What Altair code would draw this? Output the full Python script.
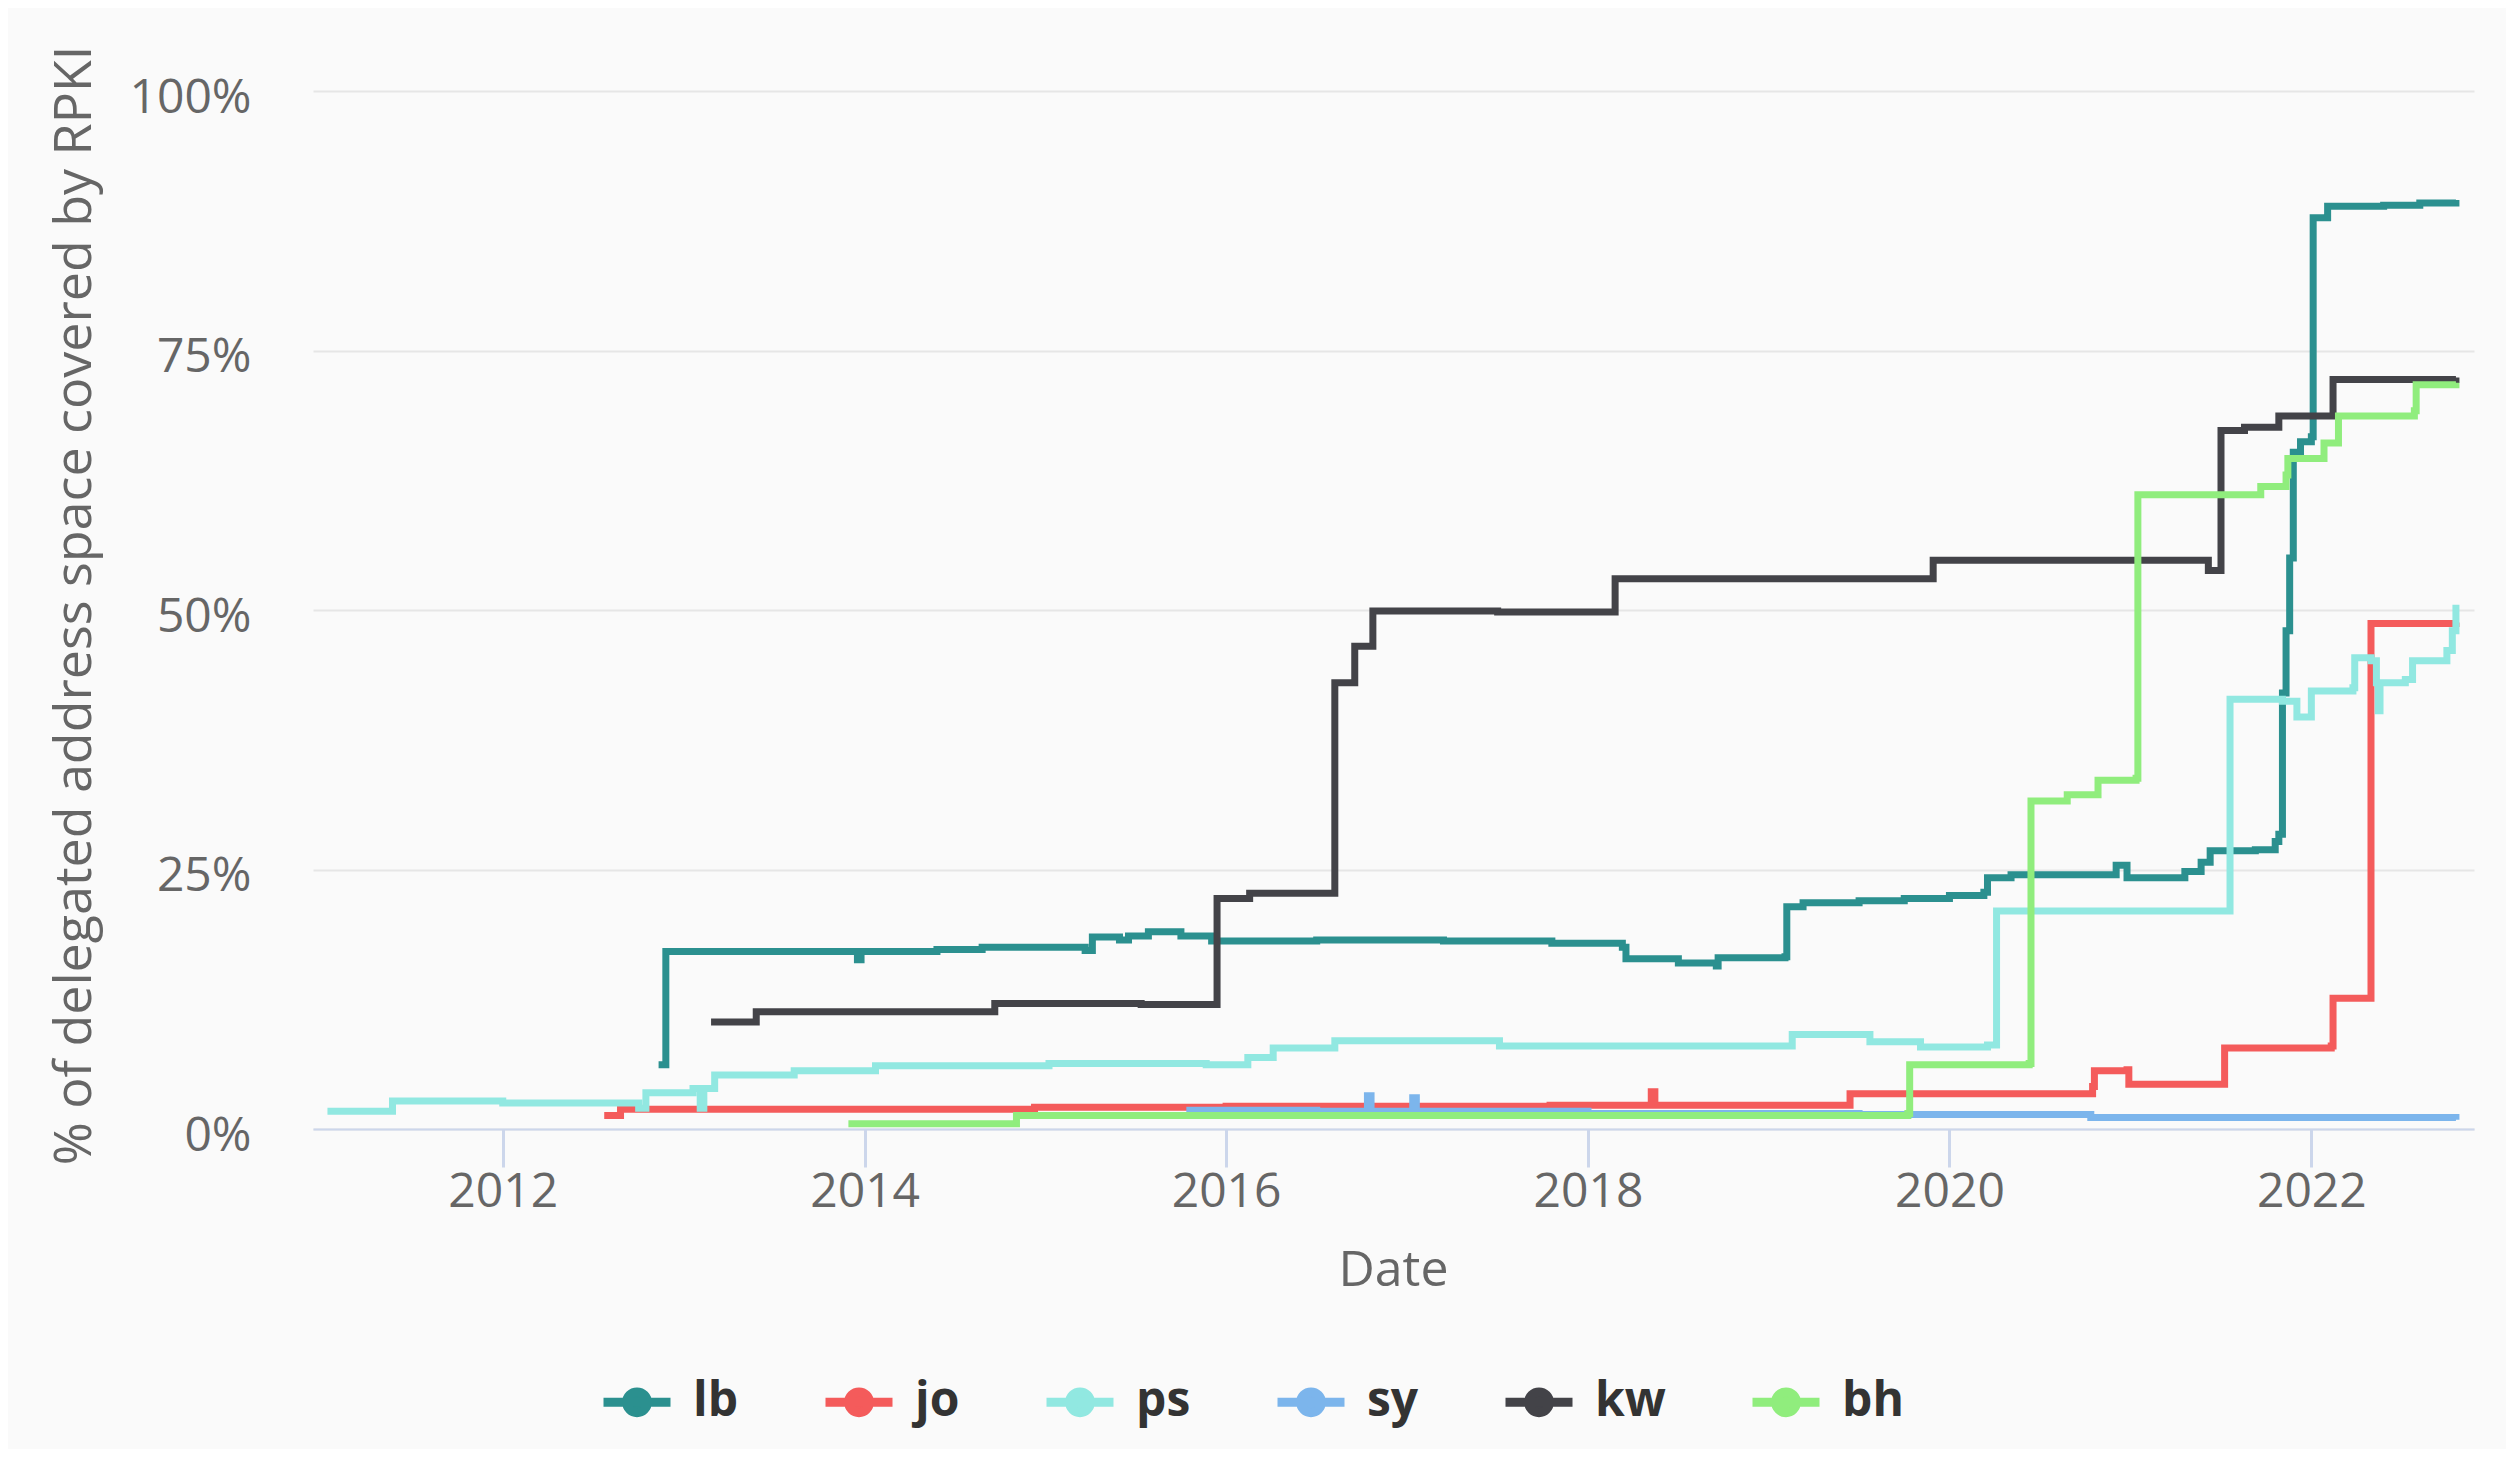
import altair as alt
import pandas as pd

SERIES = ["lb", "jo", "ps", "sy", "kw", "bh"]
COLORS = ["#2b908f", "#f45b5b", "#91e8e1", "#7cb5ec", "#434348", "#90ed7d"]

# change points: decimal year, % covered
lb_t = [2012.86, 2012.90, 2013.95, 2013.96, 2013.98, 2014.40, 2014.65, 2015.22, 2015.26, 2015.41,
        2015.46, 2015.57, 2015.75, 2015.92, 2016.50, 2017.20, 2017.80, 2018.19, 2018.21, 2018.50,
        2018.71, 2018.72, 2019.09, 2019.10, 2019.19, 2019.50, 2019.75, 2020.00, 2020.19, 2020.21,
        2020.34, 2020.89, 2020.92, 2020.97, 2020.98, 2021.19, 2021.30, 2021.39, 2021.44, 2021.69,
        2021.80, 2021.82, 2021.84, 2021.86, 2021.88, 2021.90, 2021.94, 2022.00, 2022.01, 2022.09,
        2022.40, 2022.60, 2022.80]
lb_v = [6.2, 17.1, 17.1, 16.3, 17.1, 17.3, 17.5, 17.2, 18.5, 18.2,
        18.6, 19.0, 18.6, 18.1, 18.2, 18.1, 17.9, 17.5, 16.4, 16.0,
        15.7, 16.5, 16.6, 21.4, 21.8, 22.0, 22.2, 22.5, 22.8, 24.2,
        24.5, 24.5, 25.4, 25.4, 24.2, 24.2, 24.8, 25.7, 26.8, 26.9,
        27.7, 28.4, 42.0, 48.0, 55.0, 65.2, 66.2, 66.7, 87.8, 88.9,
        89.0, 89.2, 89.5]

jo_t = [2012.56, 2012.65, 2014.94, 2016.00, 2017.79, 2018.34, 2018.35, 2018.37, 2019.45, 2020.79,
        2020.80, 2020.98, 2020.99, 2021.51, 2021.52, 2022.11, 2022.12, 2022.32, 2022.33, 2022.80]
jo_v = [1.3, 1.9, 2.1, 2.2, 2.3, 2.3, 3.6, 2.3, 3.4, 4.1,
        5.6, 5.7, 4.3, 4.3, 7.8, 8.0, 12.6, 12.6, 48.7, 48.8]

ps_t = [2011.03, 2011.39, 2012.00, 2012.75, 2012.79, 2013.05, 2013.09, 2013.11, 2013.17, 2013.61,
        2014.06, 2014.23, 2015.02, 2015.89, 2016.12, 2016.26, 2016.60, 2017.28, 2017.51, 2018.96,
        2019.13, 2019.56, 2019.84, 2020.21, 2020.26, 2021.54, 2021.55, 2021.84, 2021.92, 2022.00,
        2022.23, 2022.24, 2022.33, 2022.36, 2022.37, 2022.38, 2022.52, 2022.56, 2022.75, 2022.78,
        2022.80]
ps_v = [1.7, 2.7, 2.5, 2.0, 3.5, 3.9, 2.0, 3.9, 5.2, 5.6,
        6.1, 6.1, 6.3, 6.2, 6.9, 7.8, 8.5, 8.5, 8.0, 8.0,
        9.1, 8.4, 7.9, 8.1, 21.0, 21.0, 41.4, 41.2, 39.7, 42.2,
        42.5, 45.4, 45.1, 43.0, 40.3, 43.0, 43.3, 45.1, 46.1, 48.0,
        50.5]

sy_t = [2015.78, 2016.50, 2016.78, 2016.80, 2017.03, 2017.05, 2018.00, 2019.50, 2020.78, 2022.80]
sy_v = [1.8, 1.7, 3.2, 1.7, 3.0, 1.7, 1.5, 1.4, 1.1, 0.9]

kw_t = [2013.15, 2013.40, 2014.72, 2015.53, 2015.95, 2016.13, 2016.60, 2016.71, 2016.81, 2017.50,
        2018.15, 2019.91, 2021.43, 2021.50, 2021.63, 2021.82, 2022.12, 2022.80]
kw_v = [10.3, 11.3, 12.1, 12.0, 22.2, 22.7, 43.0, 46.5, 49.9, 49.8,
        53.0, 54.8, 53.8, 67.3, 67.6, 68.7, 72.2, 72.4]

bh_t = [2013.91, 2014.84, 2019.77, 2019.78, 2020.44, 2020.45, 2020.65, 2020.82, 2021.03, 2021.04,
        2021.69, 2021.72, 2021.86, 2021.87, 2022.06, 2022.07, 2022.15, 2022.57, 2022.58, 2022.80]
bh_v = [0.5, 1.3, 1.5, 6.2, 6.3, 31.6, 32.2, 33.6, 33.8, 61.1,
        61.1, 61.9, 63.0, 64.6, 64.6, 66.1, 68.7, 69.2, 71.7, 71.9]

Y_TICKS = [0, 25, 50, 75, 100]
X_TICK_YEARS = [2012, 2014, 2016, 2018, 2020, 2022]
X_MIN, X_MAX = 2010.95, 2022.90


def to_date(t):
    year = int(t)
    start = pd.Timestamp(year=year, month=1, day=1)
    end = pd.Timestamp(year=year + 1, month=1, day=1)
    return (start + (end - start) * (t - year)).strftime("%Y-%m-%dT%H:%M:%SZ")


rows = []
for name, ts, vs in [("lb", lb_t, lb_v), ("jo", jo_t, jo_v), ("ps", ps_t, ps_v),
                     ("sy", sy_t, sy_v), ("kw", kw_t, kw_v), ("bh", bh_t, bh_v)]:
    for t, v in zip(ts, vs):
        rows.append({"series": name, "date": to_date(t), "value": v})
df = pd.DataFrame(rows)

FONT = "Open Sans"
x_enc = alt.X(
    "date:T",
    title="Date",
    scale=alt.Scale(type="utc", domain=[to_date(X_MIN), to_date(X_MAX)]),
    axis=alt.Axis(
        values=[alt.DateTime(year=y, month=1, date=1, utc=True) for y in X_TICK_YEARS],
        format="%Y",
        grid=False,
        domainColor="#ccd6eb", domainWidth=2,
        tickColor="#ccd6eb", tickWidth=3, tickSize=38,
        labelFont=FONT, labelFontSize=48, labelColor="#666666",
        labelBaseline="alphabetic", labelPadding=39,
        titleFont=FONT, titleFontSize=50, titleFontWeight="normal", titleColor="#666666",
        titleBaseline="alphabetic", titleX=1080, titleY=156,
        zindex=1,
    ),
)
y_enc = alt.Y(
    "value:Q",
    title="% of delegated address space covered by RPKI",
    scale=alt.Scale(domain=[0, 100], nice=False),
    axis=alt.Axis(
        values=Y_TICKS,
        labelExpr="datum.value + '%'",
        domain=False, ticks=False,
        grid=True, gridColor="#e6e6e6", gridWidth=2,
        labelFont=FONT, labelFontSize=48, labelColor="#666666",
        labelBaseline="alphabetic", labelOffset=21, labelPadding=62,
        titleFont=FONT, titleFontSize=52, titleFontWeight="normal", titleColor="#666666",
        titleBaseline="middle", titleAngle=270, titleX=-239, titleY=514,
    ),
)

SYMBOL = "M-1,0H1M-0.31,0A0.31,0.31,0,1,1,0.31,0A0.31,0.31,0,1,1,-0.31,0Z"
legend_def = alt.Legend(
    title=None, orient="none", legendX=286, legendY=1273, direction="horizontal",
    symbolType=SYMBOL, symbolSize=4489, symbolStrokeWidth=9, symbolOpacity=1,
    labelFont=FONT, labelFontSize=48, labelFontWeight="bold", labelColor="#333333",
    labelOffset=18, columnPadding=68, padding=0,
)

lines = alt.Chart(df).mark_line(interpolate="step-after", strokeWidth=7).encode(
    x=x_enc,
    y=y_enc,
    color=alt.Color("series:N", scale=alt.Scale(domain=SERIES, range=COLORS), legend=legend_def),
)

legend_layer = alt.Chart(df).mark_point(filled=True, opacity=1).encode(
    x="date:T",
    y="value:Q",
    fill=alt.Fill("series:N", scale=alt.Scale(domain=SERIES, range=COLORS), legend=legend_def),
).transform_filter("false")

chart = alt.layer(lines, legend_layer).properties(
    width=2161, height=1038,
    autosize=alt.AutoSizeParams(type="none"),
    padding={"left": 305, "top": 83, "right": 32, "bottom": 320},
    background="#fafafa",
).configure_view(stroke=None)

chart.save("out.html", embed_options={"renderer": "svg", "actions": False})
